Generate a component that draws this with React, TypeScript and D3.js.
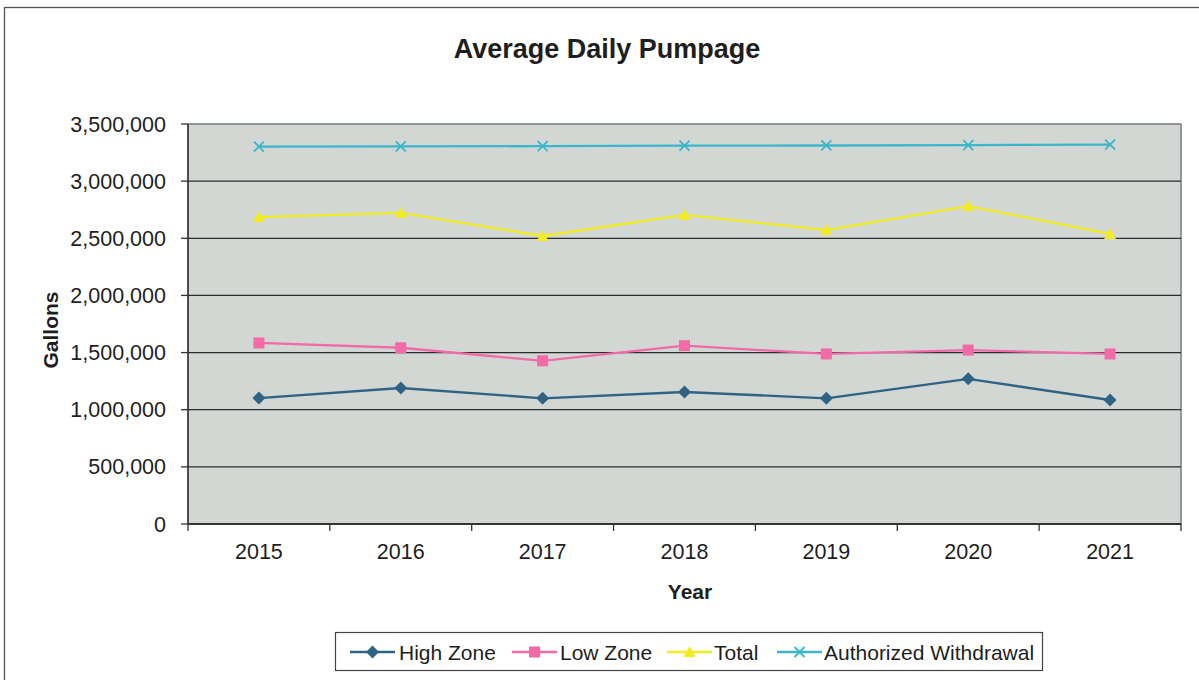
import React from 'react'
import * as d3 from 'd3'

const years = ['2015', '2016', '2017', '2018', '2019', '2020', '2021']
const highZone = [1102000, 1190000, 1100000, 1155000, 1100000, 1270000, 1085000]
const lowZone = [1584000, 1542000, 1428000, 1560000, 1488000, 1522000, 1488000]
const total = [2686000, 2722000, 2520000, 2704000, 2572000, 2782000, 2538000]
const authorized = [3302000, 3304000, 3306000, 3310000, 3312000, 3316000, 3320000]
const yTicks = [0, 500000, 1000000, 1500000, 2000000, 2500000, 3000000, 3500000]

const seriesNames = ['High Zone', 'Low Zone', 'Total', 'Authorized Withdrawal']
const seriesValues = [highZone, lowZone, total, authorized]
const seriesColors = ['#2f6384', '#f26aa8', '#f2ec22', '#3bb6cb']
const seriesMarkers = ['diamond', 'square', 'triangle', 'x']

const font = '"Liberation Sans", Arial, sans-serif'

const plot = { left: 188, right: 1181, top: 124, bottom: 524 }

const Marker = ({ type, x, y, color }: { type: string; x: number; y: number; color: string }) => {
  if (type === 'diamond') {
    return <path d={`M${x},${y - 6.5}L${x + 6.5},${y}L${x},${y + 6.5}L${x - 6.5},${y}Z`} fill={color} />
  }
  if (type === 'square') {
    return <rect x={x - 5.5} y={y - 5.5} width={11} height={11} fill={color} />
  }
  if (type === 'triangle') {
    return <path d={`M${x},${y - 6}L${x + 6},${y + 5}L${x - 6},${y + 5}Z`} fill={color} />
  }
  return (
    <path
      d={`M${x - 5},${y - 5}L${x + 5},${y + 5}M${x - 5},${y + 5}L${x + 5},${y - 5}`}
      stroke={color}
      strokeWidth={1.8}
    />
  )
}

const App = () => {
  const xBand = d3.scaleBand().domain(years).range([plot.left, plot.right]).padding(0)
  const xScale = (d: string) => (xBand(d) as number) + xBand.bandwidth() / 2
  const yScale = d3.scaleLinear().domain([0, 3500000]).range([plot.bottom, plot.top])
  const fmt = d3.format(',')

  const line = d3
    .line<number>()
    .x((_, i) => xScale(years[i]))
    .y((d) => yScale(d))

  const boundaries = years.map((y) => xBand(y) as number).concat([plot.right])

  const legendItems = [
    { lx: 350, tx: 399 },
    { lx: 512, tx: 560 },
    { lx: 667, tx: 714 },
    { lx: 777, tx: 824 },
  ]

  return (
    <div style={{ position: 'absolute', left: 0, top: 0 }}>
      <svg width={1199} height={680} style={{ display: 'block', background: '#fff' }}>
        {/* outer frame */}
        <rect x={4.5} y={7.5} width={1300} height={700} fill="none" stroke="#555" strokeWidth={1.3} />

        <text x={607} y={58} textAnchor="middle" fontFamily={font} fontWeight="bold" fontSize={27} fill="#1e1e1e">
          Average Daily Pumpage
        </text>

        {/* plot area */}
        <rect
          x={plot.left}
          y={plot.top}
          width={plot.right - plot.left}
          height={plot.bottom - plot.top}
          fill="#d2d7d4"
          stroke="#7a7a7a"
          strokeWidth={1.5}
        />

        {yTicks.map((t) => (
          <g key={t}>
            {t > 0 && t < 3500000 && (
              <line x1={plot.left} x2={plot.right} y1={yScale(t)} y2={yScale(t)} stroke="#2b2b2b" strokeWidth={1.2} />
            )}
            <line x1={plot.left - 7} x2={plot.left} y1={yScale(t)} y2={yScale(t)} stroke="#333" strokeWidth={1.3} />
            <text
              x={166}
              y={yScale(t)}
              dy="0.35em"
              textAnchor="end"
              fontFamily={font}
              fontSize={21.5}
              fill="#1e1e1e"
            >
              {fmt(t)}
            </text>
          </g>
        ))}

        {/* axes */}
        <line x1={plot.left} x2={plot.left} y1={plot.top} y2={plot.bottom} stroke="#333" strokeWidth={1.5} />
        <line x1={plot.left} x2={plot.right} y1={plot.bottom} y2={plot.bottom} stroke="#333" strokeWidth={2} />
        {boundaries.map((b, i) => (
          <line key={i} x1={b} x2={b} y1={plot.bottom} y2={plot.bottom + 7} stroke="#333" strokeWidth={1.3} />
        ))}
        {years.map((y) => (
          <text key={y} x={xScale(y)} y={559} textAnchor="middle" fontFamily={font} fontSize={21.5} fill="#1e1e1e">
            {y}
          </text>
        ))}

        <text x={690} y={599} textAnchor="middle" fontFamily={font} fontWeight="bold" fontSize={21} fill="#1e1e1e">
          Year
        </text>
        <text
          transform={`translate(58,${(plot.top + plot.bottom) / 2 + 6}) rotate(-90)`}
          textAnchor="middle"
          fontFamily={font}
          fontWeight="bold"
          fontSize={21}
          fill="#1e1e1e"
        >
          Gallons
        </text>

        {/* series */}
        {seriesValues.map((vals, si) => (
          <g key={seriesNames[si]}>
            <path d={line(vals) || ''} fill="none" stroke={seriesColors[si]} strokeWidth={2.3} />
            {vals.map((v, i) => (
              <Marker key={i} type={seriesMarkers[si]} x={xScale(years[i])} y={yScale(v)} color={seriesColors[si]} />
            ))}
          </g>
        ))}

        {/* legend */}
        <rect x={335.5} y={632.5} width={707} height={38} fill="#fff" stroke="#444" strokeWidth={1.2} />
        {seriesNames.map((name, i) => (
          <g key={name}>
            <line
              x1={legendItems[i].lx}
              x2={legendItems[i].lx + 45}
              y1={652}
              y2={652}
              stroke={seriesColors[i]}
              strokeWidth={2.3}
            />
            <Marker type={seriesMarkers[i]} x={legendItems[i].lx + 22.5} y={652} color={seriesColors[i]} />
            <text x={legendItems[i].tx} y={659.5} fontFamily={font} fontSize={21} fill="#1e1e1e">
              {name}
            </text>
          </g>
        ))}
      </svg>
    </div>
  )
}

export default App
